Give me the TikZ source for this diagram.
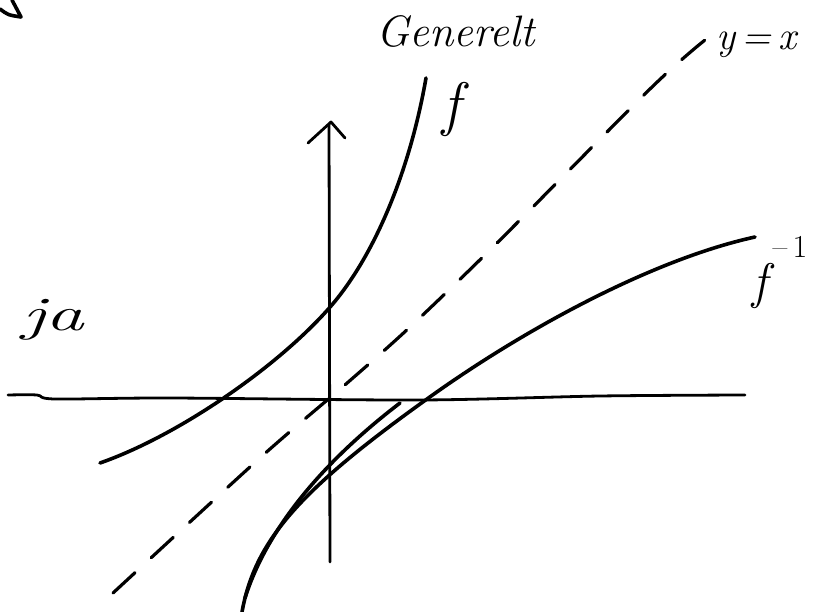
\documentclass[tikz,border=0pt]{standalone}
\usepackage{graphicx}
\begin{document}
\begin{tikzpicture}[x=1pt,y=-1pt,
  curve/.style={line width=3.6pt,line cap=round,line join=round},
  axisline/.style={line width=2.8pt,line cap=round,line join=round},
  guide/.style={line width=3.2pt,line cap=round,dash pattern=on 30pt off 22pt},
  hand/.style={inner sep=0pt,font=\itshape}]
\useasboundingbox (0,0) rectangle (829,612);
\begin{scope}
\clip (0,0) rectangle (829,612);
% fragment top left
\draw[curve] (0,9) .. controls (8,15) .. (21,17) -- (12,0);
% x axis
\draw[axisline] plot[smooth,tension=0.5] coordinates {(8,395) (37,395) (55,399) (170,398) (420,400) (600,396) (745,395)};
% y axis with open arrow head
\coordinate (ytop) at (329,124);
\coordinate (ybot) at (330,562);
\draw[axisline] (ybot) -- (ytop);
\draw[axisline] (308,143) -- (331,122) -- (345,138);
% y = x dashed
\draw[guide] plot[smooth,tension=0.5] coordinates {(113,593) (261,457) (346,384) (410,327) (497,243) (651,88) (705,40)};
% f
\draw[curve] (100,463) .. controls (180,435) and (280,365) .. (331,306)
             .. controls (375,255) and (410,170) .. (426,78);
% f inverse
\draw[curve] (242,612) .. controls (255,540) and (300,490) .. (427,399)
             .. controls (520,332) and (650,260) .. (755,237);
% second strand
\draw[curve] (245,598) .. controls (265,535) and (315,468) .. (400,403);
% texts
\node[hand,anchor=base east,font=\itshape\fontsize{48}{50}\selectfont] (ja) at (84,330) {\scalebox{1.6}[1]{ja}};
\end{scope}
\node[hand,anchor=base west,font=\itshape\fontsize{44}{46}\selectfont] (title) at (376,47) {Generelt};
\node[hand,anchor=base west,font=\itshape\fontsize{40}{42}\selectfont] (yx) at (716,50) {y\,=\,x};
\node[hand,font=\itshape\fontsize{60}{62}\selectfont] (flab) at (451,110) {f};
\node[hand,anchor=base west,font=\itshape\fontsize{50}{52}\selectfont] (finv) at (752,298) {f\raisebox{40pt}{\fontsize{32}{34}\selectfont\upshape\,\textendash\,1}};
\end{tikzpicture}
\end{document}
